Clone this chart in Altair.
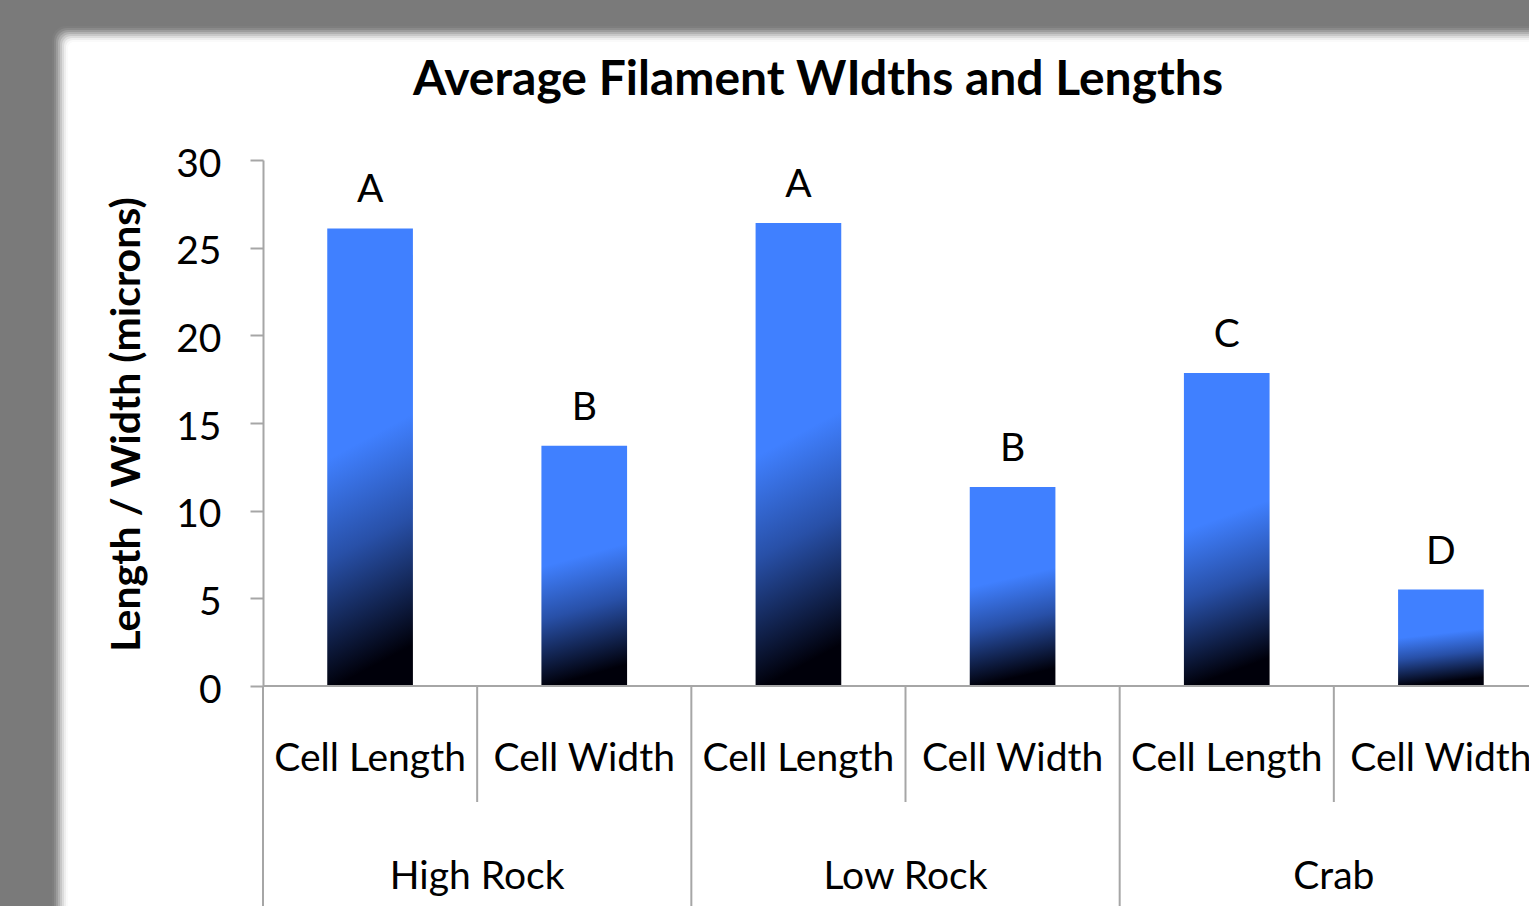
import itertools

import altair as alt
import pandas as pd

# Sampling sites and the two measurements taken at each
sites = ["High Rock", "Low Rock", "Crab"]
measures = ["Cell Length", "Cell Width"]

# Mean filament dimensions in microns, in site / measure order
means = [26.1, 13.7, 26.4, 11.35, 17.85, 5.5]
# Significance groupings printed above each bar
letters = ["A", "B", "A", "B", "C", "D"]

y_ticks = [0, 5, 10, 15, 20, 25, 30]

# ---- layout (pixels) ----
LEFT, TOP = 263, 160
PLOT_W, PLOT_H = 1266, 526
BOTTOM = 220
SLOT_SPAN = 1285          # six category slots; the last one runs past the page edge
FONT = "Lato"
LABEL_SIZE = 39
AXIS_GREY = "#a6a6a6"
BAR_BLUE = "#4080ff"

rows = []
for i, (site, measure) in enumerate(itertools.product(sites, measures)):
    rows.append(
        dict(site=site, measure=measure, mean=means[i], letter=letters[i],
             lo=i + 0.3, hi=i + 0.7, mid=i + 0.5)
    )
df = pd.DataFrame(rows)

groups_df = pd.DataFrame({"site": sites, "mid": [2 * g + 1 for g in range(len(sites))]})
n_slots = len(sites) * len(measures)
long_seps = pd.DataFrame({"pos": list(range(0, n_slots + 1, 2))})
short_seps = pd.DataFrame({"pos": list(range(1, n_slots, 2))})

x_scale = alt.Scale(domain=[0, n_slots], range=[0, SLOT_SPAN], nice=False, zero=False)
y_scale = alt.Scale(domain=[0, 30], nice=False)

y_axis = alt.Axis(
    values=y_ticks, grid=False, zindex=2,
    title="Length / Width (microns)", titleFont=FONT, titleFontSize=41,
    titleFontWeight="bold", titleColor="black", titleAngle=270,
    titleX=-136, titleY=PLOT_H / 2 + 1, titleAlign="center", titleBaseline="middle",
    labelFont=FONT, labelFontSize=LABEL_SIZE, labelColor="black", labelPadding=29,
    labelOffset=4,
    tickSize=13, tickColor=AXIS_GREY, tickWidth=2,
    domainColor=AXIS_GREY, domainWidth=2,
)
y_enc = alt.Y("mean:Q", scale=y_scale, axis=y_axis)

one = alt.Data(values=[{"k": 0}])

# White card on a grey backdrop with a soft edge
card_layers = []
steps = 9
for k in range(steps):
    t = (k + 1) / steps
    t = t * t * (3 - 2 * t)
    g = int(round(121 + (255 - 121) * t))
    shade = "#{0:02x}{0:02x}{0:02x}".format(g)
    inset = 2 * k
    card_layers.append(
        alt.Chart(one).mark_rect(color=shade, cornerRadius=14 - k)
        .encode(x=alt.value(52 - LEFT + inset), x2=alt.value(PLOT_W + 40),
                y=alt.value(26 - TOP + inset), y2=alt.value(PLOT_H + BOTTOM + 40))
    )

gradient = alt.LinearGradient(
    gradient="linear",
    x1=0, y1=0, x2=0.1, y2=1,
    stops=[
        alt.GradientStop(color=BAR_BLUE, offset=0),
        alt.GradientStop(color=BAR_BLUE, offset=0.5),
        alt.GradientStop(color="#2850a8", offset=0.72),
        alt.GradientStop(color="#00000a", offset=1),
    ],
)

bars = alt.Chart(df).mark_rect(color=gradient).encode(
    x=alt.X("lo:Q", scale=x_scale, axis=None),
    x2="hi:Q",
    y=y_enc,
    y2=alt.Y2(datum=0),
)

letter_text = alt.Chart(df).mark_text(
    font=FONT, fontSize=LABEL_SIZE, color="black", baseline="alphabetic", dy=-26
).encode(
    x=alt.X("mid:Q", scale=x_scale, axis=None),
    y=y_enc,
    text="letter:N",
)

baseline = alt.Chart(one).mark_rule(color=AXIS_GREY, strokeWidth=2).encode(
    x=alt.X(datum=0, scale=x_scale, axis=None),
    x2=alt.X2(datum=n_slots),
    y=alt.value(PLOT_H),
)

long_rules = alt.Chart(long_seps).mark_rule(color=AXIS_GREY, strokeWidth=2).encode(
    x=alt.X("pos:Q", scale=x_scale, axis=None),
    y=alt.value(PLOT_H),
    y2=alt.value(PLOT_H + BOTTOM + 5),
)
short_rules = alt.Chart(short_seps).mark_rule(color=AXIS_GREY, strokeWidth=2).encode(
    x=alt.X("pos:Q", scale=x_scale, axis=None),
    y=alt.value(PLOT_H),
    y2=alt.value(PLOT_H + 116),
)

measure_labels = alt.Chart(df).mark_text(
    font=FONT, fontSize=LABEL_SIZE, color="black", baseline="middle"
).encode(
    x=alt.X("mid:Q", scale=x_scale, axis=None),
    y=alt.value(PLOT_H + 73),
    text="measure:N",
)

site_labels = alt.Chart(groups_df).mark_text(
    font=FONT, fontSize=LABEL_SIZE, color="black", baseline="middle"
).encode(
    x=alt.X("mid:Q", scale=x_scale, axis=None),
    y=alt.value(PLOT_H + 191),
    text="site:N",
)

title = alt.Chart(one).mark_text(
    text="Average Filament WIdths and Lengths",
    font=FONT, fontSize=48, fontWeight="bold", color="black",
    align="center", baseline="alphabetic",
).encode(x=alt.value(818 - LEFT), y=alt.value(95 - TOP))

chart = (
    alt.layer(
        *card_layers, bars, letter_text, baseline, long_rules, short_rules,
        measure_labels, site_labels, title,
    )
    .properties(
        width=PLOT_W, height=PLOT_H,
        autosize=alt.AutoSizeParams(type="none"),
        padding={"left": LEFT, "top": TOP, "right": 0, "bottom": BOTTOM},
    )
    .configure(background="#7a7a7a")
    .configure_view(stroke=None)
)

chart.save("out.html", embed_options={"renderer": "svg", "actions": False})
